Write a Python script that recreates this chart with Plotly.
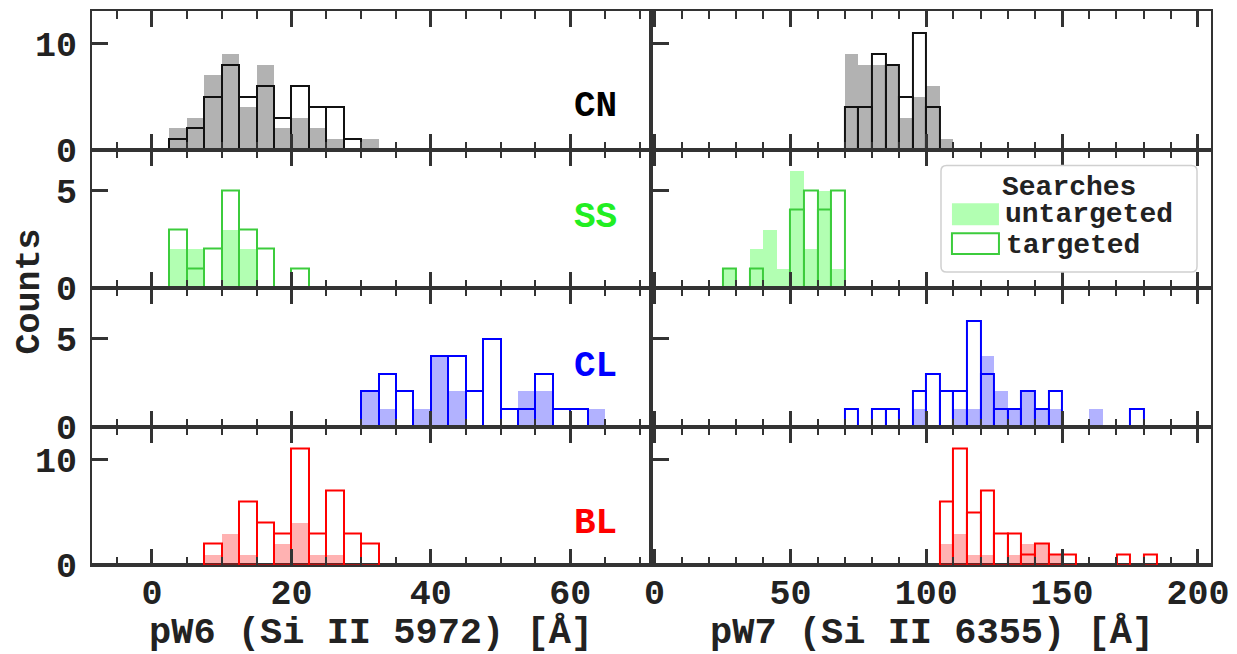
import plotly.graph_objects as go
from plotly.subplots import make_subplots

# ---------------- data (counts per bin) ----------------
pw6_bin_width = 2.5
pw7_bin_width = 5.0

# pW6 (Si II 5972) - left column; bin left edges
pw6_edges_CN = [2.5, 5, 7.5, 10, 12.5, 15, 17.5, 20, 22.5, 25, 27.5, 30]
pw6_CN_untargeted = [2, 3, 7, 9, 4, 8, 2, 3, 2, 1, 0, 1]
pw6_CN_targeted = [1, 2, 5, 8, 5, 6, 3, 6, 4, 4, 1, 0]

pw6_edges_SS = [2.5, 5, 7.5, 10, 12.5, 15, 17.5, 20]
pw6_SS_untargeted = [2, 2, 0, 3, 2, 0, 0, 0]
pw6_SS_targeted = [3, 1, 2, 5, 3, 2, 0, 1]

pw6_edges_CL = [30, 32.5, 35, 37.5, 40, 42.5, 45, 47.5, 50, 52.5, 55, 57.5, 60, 62.5]
pw6_CL_untargeted = [2, 1, 0, 1, 4, 2, 0, 0, 0, 2, 2, 0, 0, 1]
pw6_CL_targeted = [2, 3, 2, 0, 4, 4, 2, 5, 1, 1, 3, 1, 1, 0]

pw6_edges_BL = [7.5, 10, 12.5, 15, 17.5, 20, 22.5, 25, 27.5, 30]
pw6_BL_untargeted = [1, 3, 1, 0, 2, 4, 1, 1, 0, 0]
pw6_BL_targeted = [2, 0, 6, 4, 3, 11, 3, 7, 3, 2]

# pW7 (Si II 6355) - right column; bin left edges
pw7_edges_CN = [70, 75, 80, 85, 90, 95, 100, 105]
pw7_CN_untargeted = [9, 8, 8, 8, 3, 5, 6, 1]
pw7_CN_targeted = [4, 4, 9, 8, 5, 11, 4, 0]

pw7_edges_SS = [25, 30, 35, 40, 45, 50, 55, 60, 65]
pw7_SS_untargeted = [1, 0, 2, 3, 1, 6, 2, 5, 1]
pw7_SS_targeted = [1, 0, 1, 0, 0, 4, 5, 4, 5]

pw7_edges_CL = [70, 75, 80, 85, 90, 95, 100, 105, 110, 115, 120, 125,
                130, 135, 140, 145, 150, 155, 160, 165, 170, 175]
pw7_CL_untargeted = [0, 0, 0, 0, 0, 1, 0, 0, 1, 1, 4, 2, 1, 2, 1, 1, 0, 0, 1, 0, 0, 0]
pw7_CL_targeted = [1, 0, 1, 1, 0, 2, 3, 2, 2, 6, 3, 1, 1, 2, 1, 2, 0, 0, 0, 0, 0, 1]

pw7_edges_BL = [105, 110, 115, 120, 125, 130, 135, 140, 145, 150, 155, 160, 165, 170, 175, 180]
pw7_BL_untargeted = [2, 3, 1, 1, 0, 1, 2, 2, 1, 0, 0, 0, 0, 0, 0, 0]
pw7_BL_targeted = [6, 11, 5, 7, 3, 3, 1, 2, 1, 1, 0, 0, 0, 1, 0, 1]

classes = ["CN", "SS", "CL", "BL"]
y_max = [13.1, 7.1, 7.9, 13.1]
y_dtick = [10, 5, 5, 10]
pw6_range = [-8.6, 71.3]
pw7_range = [-0.6, 204.8]
x_title_pw6 = "pW6 (Si II 5972) [Å]"
x_title_pw7 = "pW7 (Si II 6355) [Å]"
y_title = "Counts"
legend_title = "Searches"
legend_labels = ["untargeted", "targeted"]

# ---------------- styles ----------------
fill_colors = ["rgba(0,0,0,0.3)", "rgba(0,255,0,0.3)", "rgba(0,0,255,0.3)", "rgba(255,0,0,0.3)"]
line_colors = ["#111111", "#3ccc3c", "#0000ff", "#ff0000"]
label_colors = ["#000000", "#22ee22", "#0000ff", "#ff0000"]
label_yfrac = [0.31, 0.51, 0.43, 0.30]

FONT = "Liberation Mono, Courier New, monospace"
TXT = "#222222"
FRAME = "#333333"

panels = {
    ("CN", 1): (pw6_edges_CN, pw6_CN_untargeted, pw6_CN_targeted),
    ("SS", 1): (pw6_edges_SS, pw6_SS_untargeted, pw6_SS_targeted),
    ("CL", 1): (pw6_edges_CL, pw6_CL_untargeted, pw6_CL_targeted),
    ("BL", 1): (pw6_edges_BL, pw6_BL_untargeted, pw6_BL_targeted),
    ("CN", 2): (pw7_edges_CN, pw7_CN_untargeted, pw7_CN_targeted),
    ("SS", 2): (pw7_edges_SS, pw7_SS_untargeted, pw7_SS_targeted),
    ("CL", 2): (pw7_edges_CL, pw7_CL_untargeted, pw7_CL_targeted),
    ("BL", 2): (pw7_edges_BL, pw7_BL_untargeted, pw7_BL_targeted),
}

fig = make_subplots(rows=4, cols=2, horizontal_spacing=0.0035, vertical_spacing=0)

for r, cls in enumerate(classes, start=1):
    for c in (1, 2):
        edges, unt, tar = panels[(cls, c)]
        w = pw6_bin_width if c == 1 else pw7_bin_width
        centers = [e + w / 2 for e in edges]
        fig.add_trace(go.Bar(
            x=centers, y=[v if v > 0 else None for v in unt], width=w,
            marker=dict(color=fill_colors[r - 1], line=dict(width=0)),
            showlegend=False, hoverinfo="skip"), row=r, col=c)
        fig.add_trace(go.Bar(
            x=centers, y=[v if v > 0 else None for v in tar], width=w,
            marker=dict(color="rgba(0,0,0,0)", line=dict(color=line_colors[r - 1], width=2)),
            showlegend=False, hoverinfo="skip"), row=r, col=c)

left_dom = [0, 0.4978]
right_dom = [0.5013, 1]
row_dom = [[0.75, 1.0], [0.5, 0.75], [0.25, 0.5], [0.0, 0.25]]

tickfont = dict(family=FONT, size=35, color=TXT, weight="bold")

for r in range(1, 5):
    for c in (1, 2):
        idx = (r - 1) * 2 + c
        xname = "xaxis" if idx == 1 else f"xaxis{idx}"
        yname = "yaxis" if idx == 1 else f"yaxis{idx}"
        if c == 1:
            xr, dt, mdt, dom = pw6_range, 20, 5, left_dom
        else:
            xr, dt, mdt, dom = pw7_range, 50, 10, right_dom
        fig.layout[xname].update(
            domain=dom, range=xr, tick0=0, dtick=dt, ticks="inside", ticklen=16,
            tickwidth=2.5, tickcolor=FRAME,
            minor=dict(dtick=mdt, tick0=0, ticks="inside", ticklen=8, tickwidth=2, tickcolor=FRAME),
            showline=True, linewidth=2, linecolor=FRAME, mirror="allticks",
            showgrid=False, zeroline=False, showticklabels=(r == 4),
            tickfont=tickfont, ticklabelstandoff=-5)
        fig.layout[yname].update(
            domain=row_dom[r - 1], range=[0, y_max[r - 1]], tick0=0, dtick=y_dtick[r - 1],
            ticks="inside", ticklen=16, tickwidth=2.5, tickcolor=FRAME,
            showline=True, linewidth=2, linecolor=FRAME, mirror=True,
            showgrid=False, zeroline=True, zerolinewidth=4, zerolinecolor=FRAME,
            showticklabels=(c == 1), tickfont=tickfont, ticklabelstandoff=6)

annotations = []
for r, cls in enumerate(classes, start=1):
    idx = (r - 1) * 2 + 1
    xa = "x" if idx == 1 else f"x{idx}"
    ya = "y" if idx == 1 else f"y{idx}"
    annotations.append(dict(
        text=cls, xref=f"{xa} domain", yref=f"{ya} domain", x=0.903, y=label_yfrac[r - 1],
        xanchor="center", yanchor="middle", showarrow=False,
        font=dict(family=FONT, size=36, color=label_colors[r - 1], weight="bold")))

title_font = dict(family=FONT, size=37, color=TXT, weight="bold")
annotations.append(dict(text=x_title_pw6, xref="paper", yref="paper", x=sum(left_dom) / 2, y=-0.122,
                        xanchor="center", yanchor="middle", showarrow=False, font=title_font))
annotations.append(dict(text=x_title_pw7, xref="paper", yref="paper", x=sum(right_dom) / 2, y=-0.122,
                        xanchor="center", yanchor="middle", showarrow=False, font=title_font))
annotations.append(dict(text=y_title, xref="paper", yref="paper", x=-0.055, y=0.4946, textangle=-90,
                        xanchor="center", yanchor="middle", showarrow=False,
                        font=dict(family=FONT, size=35, color=TXT, weight="bold")))

# legend (drawn manually to match the large patches)
leg_font = dict(family=FONT, size=28, color=TXT, weight="bold")
annotations.append(dict(text=legend_title, xref="paper", yref="paper", x=0.8731, y=0.6810,
                        xanchor="center", yanchor="middle", showarrow=False, font=leg_font))
annotations.append(dict(text=legend_labels[0], xref="paper", yref="paper", x=0.814, y=0.6321,
                        xanchor="left", yanchor="middle", showarrow=False, font=leg_font))
annotations.append(dict(text=legend_labels[1], xref="paper", yref="paper", x=0.815, y=0.5773,
                        xanchor="left", yanchor="middle", showarrow=False, font=leg_font))


def rounded_rect(x0, y0, x1, y1, rx, ry):
    return (f"M {x0+rx},{y0} L {x1-rx},{y0} Q {x1},{y0} {x1},{y0+ry} "
            f"L {x1},{y1-ry} Q {x1},{y1} {x1-rx},{y1} L {x0+rx},{y1} "
            f"Q {x0},{y1} {x0},{y1-ry} L {x0},{y0+ry} Q {x0},{y0} {x0+rx},{y0} Z")


shapes = [
    dict(type="path", xref="paper", yref="paper",
         path=rounded_rect(0.7587, 0.5288, 0.9875, 0.7212, 0.005, 0.01),
         fillcolor="rgba(255,255,255,0.85)", line=dict(color="#d0d0d0", width=1.5), layer="above"),
    dict(type="rect", xref="paper", yref="paper", x0=0.7685, x1=0.8105, y0=0.6133, y1=0.6529,
         fillcolor=fill_colors[1], line=dict(width=0), layer="above"),
    dict(type="rect", xref="paper", yref="paper", x0=0.7685, x1=0.8105, y0=0.5612, y1=0.5989,
         fillcolor="rgba(0,0,0,0)", line=dict(color=line_colors[1], width=2), layer="above"),
]

fig.update_layout(
    width=1237, height=654,
    margin=dict(l=84, r=34, t=1, b=97),
    paper_bgcolor="white", plot_bgcolor="white",
    barmode="overlay", bargap=0,
    showlegend=False,
    annotations=annotations, shapes=shapes,
)

fig.write_html("out.html")
